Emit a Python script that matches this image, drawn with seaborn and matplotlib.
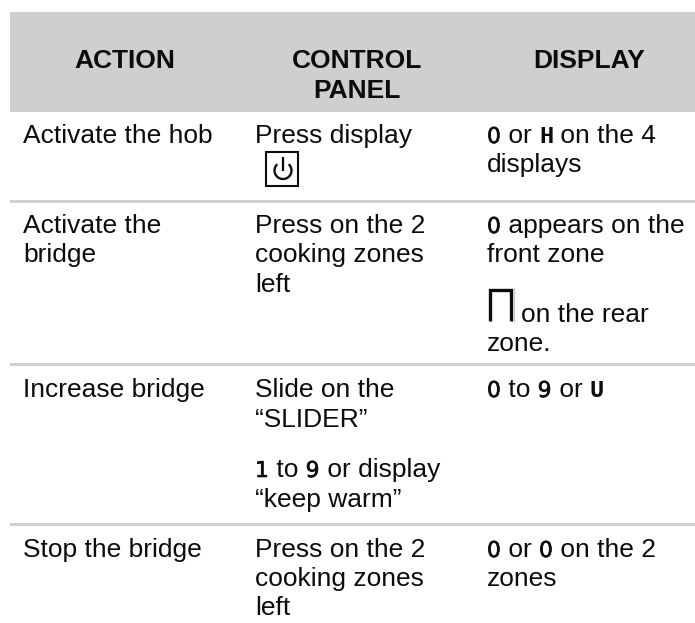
import matplotlib
matplotlib.use("Agg")
import matplotlib.pyplot as plt
from matplotlib.patches import Rectangle, Arc
import matplotlib.patheffects as pe
import seaborn as sns

sns.set_theme(style="white")
plt.rcParams["font.family"] = ["Liberation Sans", "DejaVu Sans"]

SANS = "Liberation Sans"
BAND = "#cfcfcf"
INK = "#0c0c0c"
SIZE = 19.0

headers = [("ACTION", 125, [68]), ("CONTROL\nPANEL", 357, [68, 97.5]), ("DISPLAY", 589.5, [68])]
rule_rows = [201.5, 364.2, 524.3]

col1 = [("Activate the hob", 143), ("Activate the", 233), ("bridge", 262),
        ("Increase bridge", 397), ("Stop the bridge", 557)]
col2 = [("Press display", 143), ("Press on the 2", 233), ("cooking zones", 262), ("left", 291.5),
        ("Slide on the", 397), ("\u201cSLIDER\u201d", 427),
        ([("1", 1), (" to ", 0), ("9", 1), (" or display", 0)], 477),
        ("\u201ckeep warm\u201d", 507), ("Press on the 2", 557), ("cooking zones", 586), ("left", 615)]
col3 = [([("0", 1), (" or ", 0), ("H", 2), (" on the 4", 0)], 143), ("displays", 172),
        ([("0", 1), (" appears on the", 0)], 233), ("front zone", 262),
        ("on the rear", 322, 521), ("zone.", 351),
        ([("0", 1), (" to ", 0), ("9", 1), (" or ", 0), ("U", 2)], 397),
        ([("0", 1), (" or ", 0), ("0", 1), (" on the 2", 0)], 557), ("zones", 586)]

fig = plt.figure(figsize=(6.95, 6.23), dpi=100)
ax = fig.add_axes([0, 0, 1, 1])
ax.set_xlim(0, 695)
ax.set_ylim(623, 0)
ax.axis("off")
sns.despine(ax=ax, left=True, bottom=True)

ax.add_patch(Rectangle((10, 12), 685, 99.8, color=BAND, lw=0))
for y in rule_rows:
    ax.add_patch(Rectangle((10, y - 1.5), 685, 3, color=BAND, lw=0))

for label, x, ys in headers:
    for part, y in zip(label.split("\n"), ys):
        ax.text(x, y, part, ha="center", va="baseline", fontsize=SIZE, fontweight="bold", family=SANS, color=INK)

renderer = fig.canvas.get_renderer()

def put(x, y, content):
    if isinstance(content, str):
        ax.text(x, y, content, va="baseline", fontsize=SIZE, family=SANS, color=INK)
        return
    for run, kind in content:
        if kind == 1:
            t = ax.text(x, y, run, va="baseline", fontsize=15.7, family="DejaVu Sans", color=INK,
                        path_effects=[pe.withStroke(linewidth=0.45, foreground=INK)])
        elif kind == 2:
            t = ax.text(x, y, run, va="baseline", fontsize=17, family="Liberation Mono", fontweight="bold", color=INK)
        else:
            t = ax.text(x, y, run, va="baseline", fontsize=SIZE, family=SANS, color=INK)
        x += t.get_window_extent(renderer).width

for item in col1:
    put(23, item[1], item[0])
for item in col2:
    put(255, item[1], item[0])
for item in col3:
    put(item[2] if len(item) > 2 else 487, item[1], item[0])

# power icon
ax.add_patch(Rectangle((265.5, 152), 32, 34, fill=False, ec=INK, lw=1.5))
ax.add_patch(Arc((283, 170.5), 17, 17, theta1=312, theta2=588, ec=INK, lw=1.65))
ax.plot([283, 283], [157, 171], color=INK, lw=1.65, solid_capstyle="butt")

# bridge glyph
ax.plot([489.7, 489.7, 510.9, 510.9], [321, 290.2, 290.2, 321], color=INK, lw=2.4,
        solid_joinstyle="miter", solid_capstyle="butt")
ax.plot([514, 514], [288, 321], color="#c4c4c4", lw=0.8)

fig.savefig("out.png", dpi=100)
